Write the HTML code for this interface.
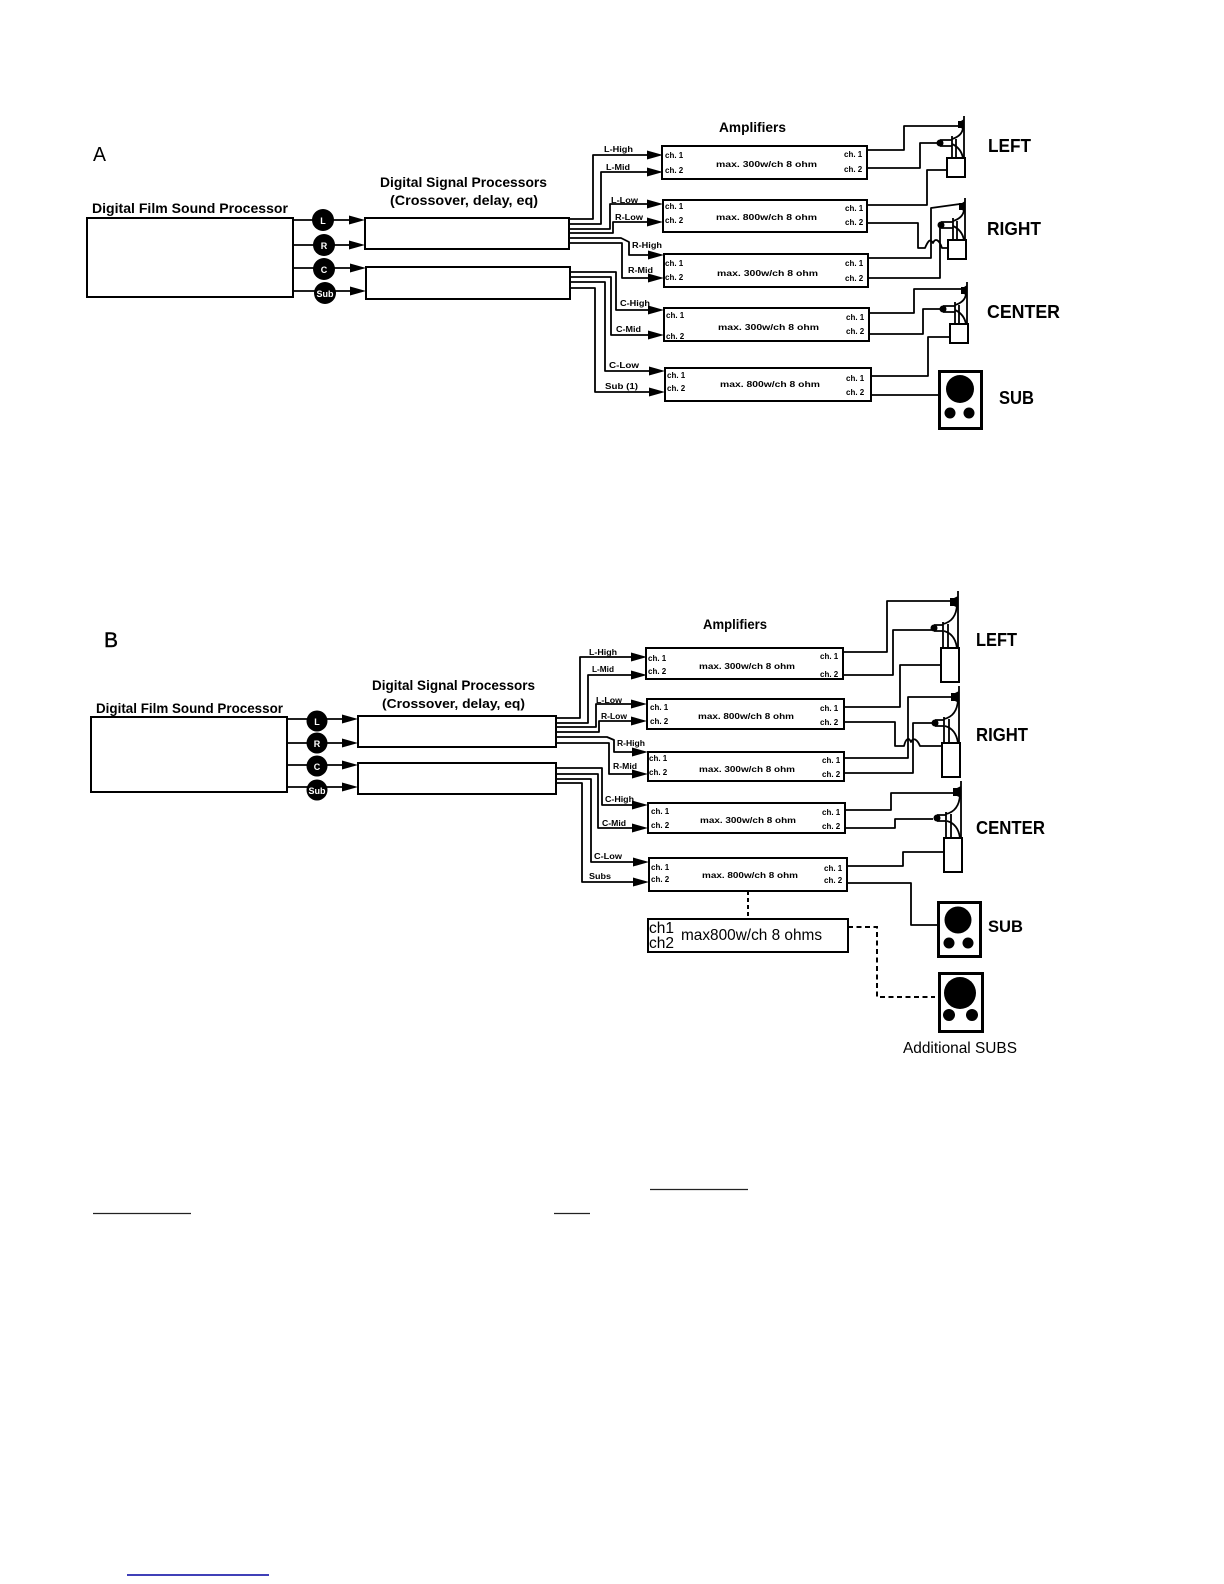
<!DOCTYPE html>
<html><head><meta charset="utf-8">
<style>
html,body{margin:0;padding:0;background:#fff}
svg{display:block}
text{font-family:"Liberation Sans",sans-serif;fill:#000}
.b{font-weight:bold}
.s{font-weight:bold;font-size:8px}
.w{fill:#fff;font-weight:bold;font-size:9px;text-anchor:middle}
.l{fill:none;stroke:#000;stroke-width:1.8;stroke-linejoin:round}
.r{fill:#fff;stroke:#000;stroke-width:2}
</style></head><body>
<svg width="1224" height="1584" viewBox="0 0 1224 1584" xmlns="http://www.w3.org/2000/svg">
<defs>
<g id="spA">
<path class="l" d="M0 0V42"/><path d="M-6 5h3l3 -2v11l-3 -2h-3z" fill="#000"/>
<path class="l" d="M-1 12Q-2 20 -12 23"/><path class="l" d="M-12 20V42M-8 23V42"/>
<circle cx="-24" cy="27" r="3.5" fill="#000"/><path class="l" d="M-24 24H-12M-24 30H-12"/>
<path class="l" d="M-12 28Q-3 32 -1 42"/>
<rect class="r" x="-17" y="42" width="18" height="19"/>
</g>
<g id="spB">
<path class="l" d="M0 0V57"/><path d="M-8 7h4l4 -2v12l-4 -2h-4z" fill="#000"/>
<path class="l" d="M-1 14Q-2 30 -15 33"/><path class="l" d="M-15 31V57M-10 33V57"/>
<circle cx="-24" cy="37" r="3.5" fill="#000"/><path class="l" d="M-24 34H-15M-24 40H-15"/>
<path class="l" d="M-14 40Q-3 43 -1 57"/>
<rect class="r" x="-17" y="57" width="18" height="34"/>
</g>
<path id="ar" d="M0 -4.5L16 0L0 4.5z" fill="#000"/>
</defs>

<!-- ===== A ===== -->
<text x="93" y="161" font-size="20" textLength="13" lengthAdjust="spacingAndGlyphs">A</text>
<text class="b" x="92" y="213" font-size="14" textLength="196" lengthAdjust="spacingAndGlyphs">Digital Film Sound Processor</text>
<text class="b" x="380" y="187" font-size="14" textLength="167" lengthAdjust="spacingAndGlyphs">Digital Signal Processors</text>
<text class="b" x="390" y="205" font-size="14" textLength="148" lengthAdjust="spacingAndGlyphs">(Crossover, delay, eq)</text>
<rect class="r" x="87" y="218" width="206" height="79"/>
<rect class="r" x="365" y="218" width="204" height="31"/>
<rect class="r" x="366" y="267" width="204" height="32"/>
<path class="l" d="M293 220H350M293 245H350M293 268H350M293 291H350"/>
<use href="#ar" x="349" y="220"/><use href="#ar" x="349" y="245"/><use href="#ar" x="350" y="268"/><use href="#ar" x="350" y="291"/>
<circle cx="323" cy="220" r="11"/><circle cx="324" cy="245" r="11"/><circle cx="324" cy="269" r="11"/><circle cx="325" cy="293" r="11"/>
<text class="w" x="323" y="224">L</text><text class="w" x="324" y="249">R</text><text class="w" x="324" y="273">C</text><text class="w" x="325" y="297">Sub</text>

<path class="l" d="M569 219H593V155H650M569 224H601V172H650M569 229H610V204H650M569 233H613V222H650"/>
<path class="l" d="M569 238H621L629 242V255H650M569 243H622V278H650"/>
<path class="l" d="M570 272H616V310H650M570 277H611V335H650M570 282H605V371H650M570 288H595V392H650"/>
<use href="#ar" x="647" y="155"/><use href="#ar" x="647" y="172"/><use href="#ar" x="647" y="204"/><use href="#ar" x="647" y="222"/>
<use href="#ar" x="648" y="255"/><use href="#ar" x="648" y="278"/><use href="#ar" x="648" y="310"/><use href="#ar" x="648" y="335"/><use href="#ar" x="649" y="371"/><use href="#ar" x="649" y="392"/>

<text class="s" x="604" y="152" textLength="29" lengthAdjust="spacingAndGlyphs">L-High</text>
<text class="s" x="606" y="170" textLength="24" lengthAdjust="spacingAndGlyphs">L-Mid</text>
<text class="s" x="611" y="203" textLength="27" lengthAdjust="spacingAndGlyphs">L-Low</text>
<text class="s" x="615" y="220" textLength="28" lengthAdjust="spacingAndGlyphs">R-Low</text>
<text class="s" x="632" y="248" textLength="30" lengthAdjust="spacingAndGlyphs">R-High</text>
<text class="s" x="628" y="273" textLength="25" lengthAdjust="spacingAndGlyphs">R-Mid</text>
<text class="s" x="620" y="306" textLength="30" lengthAdjust="spacingAndGlyphs">C-High</text>
<text class="s" x="616" y="332" textLength="25" lengthAdjust="spacingAndGlyphs">C-Mid</text>
<text class="s" x="609" y="368" textLength="30" lengthAdjust="spacingAndGlyphs">C-Low</text>
<text class="s" x="605" y="389" textLength="33" lengthAdjust="spacingAndGlyphs">Sub (1)</text>

<text class="b" x="719" y="132" font-size="14" textLength="67" lengthAdjust="spacingAndGlyphs">Amplifiers</text>
<rect class="r" x="662" y="146" width="205" height="33"/>
<rect class="r" x="663" y="200" width="204" height="32"/>
<rect class="r" x="664" y="254" width="204" height="33"/>
<rect class="r" x="664" y="308" width="205" height="33"/>
<rect class="r" x="665" y="368" width="206" height="33"/>

<text class="s" x="665" y="158">ch. 1</text><text class="s" x="665" y="173">ch. 2</text><text class="s" x="716" y="167" textLength="101" lengthAdjust="spacingAndGlyphs">max. 300w/ch 8 ohm</text><text class="s" x="844" y="157">ch. 1</text><text class="s" x="844" y="172">ch. 2</text>
<text class="s" x="665" y="209">ch. 1</text><text class="s" x="665" y="223">ch. 2</text><text class="s" x="716" y="220" textLength="101" lengthAdjust="spacingAndGlyphs">max. 800w/ch 8 ohm</text><text class="s" x="845" y="211">ch. 1</text><text class="s" x="845" y="225">ch. 2</text>
<text class="s" x="665" y="266">ch. 1</text><text class="s" x="665" y="280">ch. 2</text><text class="s" x="717" y="276" textLength="101" lengthAdjust="spacingAndGlyphs">max. 300w/ch 8 ohm</text><text class="s" x="845" y="266">ch. 1</text><text class="s" x="845" y="281">ch. 2</text>
<text class="s" x="666" y="318">ch. 1</text><text class="s" x="666" y="339">ch. 2</text><text class="s" x="718" y="330" textLength="101" lengthAdjust="spacingAndGlyphs">max. 300w/ch 8 ohm</text><text class="s" x="846" y="320">ch. 1</text><text class="s" x="846" y="334">ch. 2</text>
<text class="s" x="667" y="378">ch. 1</text><text class="s" x="667" y="391">ch. 2</text><text class="s" x="720" y="387" textLength="100" lengthAdjust="spacingAndGlyphs">max. 800w/ch 8 ohm</text><text class="s" x="846" y="381">ch. 1</text><text class="s" x="846" y="395">ch. 2</text>

<path class="l" d="M867 150H904V126H960M867 168H920V143H938M867 205H927V170H948"/>
<path class="l" d="M867 223H918V248H925C928 241 930 238 933 243C935 238 939 239 942 248H951"/>
<path class="l" d="M868 258H931V208L960 204M868 278H940V224"/>
<path class="l" d="M869 313H914V289H961M869 334H923V309H940M871 376H928V337H951M871 395H938"/>
<use href="#spA" x="964" y="116"/><use href="#spA" x="965" y="198"/><use href="#spA" x="967" y="282"/>
<rect x="939.5" y="371.5" width="42" height="57" fill="#fff" stroke="#000" stroke-width="3"/>
<circle cx="960" cy="389" r="14"/><circle cx="950" cy="413" r="5.5"/><circle cx="969" cy="413" r="5.5"/>
<text class="b" x="988" y="152" font-size="18" textLength="43" lengthAdjust="spacingAndGlyphs">LEFT</text>
<text class="b" x="987" y="235" font-size="18" textLength="54" lengthAdjust="spacingAndGlyphs">RIGHT</text>
<text class="b" x="987" y="318" font-size="18" textLength="73" lengthAdjust="spacingAndGlyphs">CENTER</text>
<text class="b" x="999" y="404" font-size="18" textLength="35" lengthAdjust="spacingAndGlyphs">SUB</text>

<!-- ===== B ===== -->
<text x="104" y="647" font-size="21" textLength="14" lengthAdjust="spacingAndGlyphs" stroke="#000" stroke-width=".4">B</text>
<text class="b" x="96" y="713" font-size="14" textLength="187" lengthAdjust="spacingAndGlyphs">Digital Film Sound Processor</text>
<text class="b" x="372" y="690" font-size="14" textLength="163" lengthAdjust="spacingAndGlyphs">Digital Signal Processors</text>
<text class="b" x="382" y="708" font-size="13" textLength="143" lengthAdjust="spacingAndGlyphs">(Crossover, delay, eq)</text>
<rect class="r" x="91" y="717" width="196" height="75"/>
<rect class="r" x="358" y="716" width="198" height="31"/>
<rect class="r" x="358" y="763" width="198" height="31"/>
<path class="l" d="M287 719H345M287 743H345M287 765H345M287 787H345"/>
<use href="#ar" x="342" y="719"/><use href="#ar" x="342" y="743"/><use href="#ar" x="342" y="765"/><use href="#ar" x="342" y="787"/>
<circle cx="317" cy="721" r="10.5"/><circle cx="317" cy="743" r="10.5"/><circle cx="317" cy="766" r="10.5"/><circle cx="317" cy="790" r="10.5"/>
<text class="w" x="317" y="725">L</text><text class="w" x="317" y="747">R</text><text class="w" x="317" y="770">C</text><text class="w" x="317" y="794">Sub</text>

<path class="l" d="M556 718H580V657H635M556 723H588V675H635M556 727H596V704H635M556 732H599V721H635"/>
<path class="l" d="M556 737H607L614 740V752H635M556 743H609V774H635"/>
<path class="l" d="M556 768H602V805H635M556 774H598V828H635M556 779H591V862H635M556 783H582V882H636"/>
<use href="#ar" x="631" y="657"/><use href="#ar" x="631" y="675"/><use href="#ar" x="631" y="704"/><use href="#ar" x="631" y="721"/>
<use href="#ar" x="632" y="752"/><use href="#ar" x="632" y="774"/><use href="#ar" x="632" y="805"/><use href="#ar" x="632" y="828"/><use href="#ar" x="633" y="862"/><use href="#ar" x="633" y="882"/>

<text class="s" x="589" y="655" textLength="28" lengthAdjust="spacingAndGlyphs">L-High</text>
<text class="s" x="592" y="672" textLength="22" lengthAdjust="spacingAndGlyphs">L-Mid</text>
<text class="s" x="596" y="703" textLength="26" lengthAdjust="spacingAndGlyphs">L-Low</text>
<text class="s" x="601" y="719" textLength="26" lengthAdjust="spacingAndGlyphs">R-Low</text>
<text class="s" x="617" y="746" textLength="28" lengthAdjust="spacingAndGlyphs">R-High</text>
<text class="s" x="613" y="769" textLength="24" lengthAdjust="spacingAndGlyphs">R-Mid</text>
<text class="s" x="605" y="802" textLength="29" lengthAdjust="spacingAndGlyphs">C-High</text>
<text class="s" x="602" y="826" textLength="24" lengthAdjust="spacingAndGlyphs">C-Mid</text>
<text class="s" x="594" y="859" textLength="28" lengthAdjust="spacingAndGlyphs">C-Low</text>
<text class="s" x="589" y="879" textLength="22" lengthAdjust="spacingAndGlyphs">Subs</text>

<text class="b" x="703" y="629" font-size="14" textLength="64" lengthAdjust="spacingAndGlyphs">Amplifiers</text>
<rect class="r" x="646" y="648" width="197" height="31"/>
<rect class="r" x="647" y="699" width="197" height="30"/>
<rect class="r" x="648" y="752" width="196" height="29"/>
<rect class="r" x="648" y="803" width="197" height="30"/>
<rect class="r" x="649" y="858" width="198" height="33"/>
<rect class="r" x="648" y="919" width="200" height="33"/>

<text class="s" x="648" y="661">ch. 1</text><text class="s" x="648" y="674">ch. 2</text><text class="s" x="699" y="669" textLength="96" lengthAdjust="spacingAndGlyphs">max. 300w/ch 8 ohm</text><text class="s" x="820" y="659">ch. 1</text><text class="s" x="820" y="677">ch. 2</text>
<text class="s" x="650" y="710">ch. 1</text><text class="s" x="650" y="724">ch. 2</text><text class="s" x="698" y="719" textLength="96" lengthAdjust="spacingAndGlyphs">max. 800w/ch 8 ohm</text><text class="s" x="820" y="711">ch. 1</text><text class="s" x="820" y="725">ch. 2</text>
<text class="s" x="649" y="761">ch. 1</text><text class="s" x="649" y="775">ch. 2</text><text class="s" x="699" y="772" textLength="96" lengthAdjust="spacingAndGlyphs">max. 300w/ch 8 ohm</text><text class="s" x="822" y="763">ch. 1</text><text class="s" x="822" y="777">ch. 2</text>
<text class="s" x="651" y="814">ch. 1</text><text class="s" x="651" y="828">ch. 2</text><text class="s" x="700" y="823" textLength="96" lengthAdjust="spacingAndGlyphs">max. 300w/ch 8 ohm</text><text class="s" x="822" y="815">ch. 1</text><text class="s" x="822" y="829">ch. 2</text>
<text class="s" x="651" y="870">ch. 1</text><text class="s" x="651" y="882">ch. 2</text><text class="s" x="702" y="878" textLength="96" lengthAdjust="spacingAndGlyphs">max. 800w/ch 8 ohm</text><text class="s" x="824" y="871">ch. 1</text><text class="s" x="824" y="883">ch. 2</text>

<text x="649" y="933" font-size="15.5">ch1</text><text x="649" y="948" font-size="15.5">ch2</text>
<text x="681" y="940" font-size="16" textLength="141" lengthAdjust="spacingAndGlyphs">max800w/ch 8 ohms</text>

<path class="l" d="M843 652H887V601H951M843 675H893V630H932M844 707H900V665H941"/>
<path class="l" d="M844 722H895V746H904C906 738 909 737 911 742C913 737 917 739 920 746H943"/>
<path class="l" d="M844 758H908V697H952M844 773H913V723H933"/>
<path class="l" d="M845 810H891V793H953M845 828H895V819H933M847 866H903V852H945M847 883H911V925H937"/>
<use href="#spB" x="958" y="591"/><use href="#spB" x="959" y="686"/><use href="#spB" x="961" y="781"/>
<path d="M748 891V919" fill="none" stroke="#000" stroke-width="2" stroke-dasharray="4 3"/>
<path d="M848 927H877V997H935" fill="none" stroke="#000" stroke-width="2" stroke-dasharray="5 3.5"/>
<rect x="938.5" y="902.5" width="42" height="54" fill="#fff" stroke="#000" stroke-width="3"/>
<circle cx="958" cy="920" r="13.5"/><circle cx="949" cy="943" r="5.5"/><circle cx="968" cy="943" r="5.5"/>
<rect x="939.5" y="973.5" width="43" height="58" fill="#fff" stroke="#000" stroke-width="3"/>
<circle cx="960" cy="993" r="16"/><circle cx="949" cy="1015" r="6"/><circle cx="972" cy="1015" r="6"/>

<text class="b" x="976" y="646" font-size="18" textLength="41" lengthAdjust="spacingAndGlyphs">LEFT</text>
<text class="b" x="976" y="741" font-size="18" textLength="52" lengthAdjust="spacingAndGlyphs">RIGHT</text>
<text class="b" x="976" y="834" font-size="18" textLength="69" lengthAdjust="spacingAndGlyphs">CENTER</text>
<text class="b" x="988" y="932" font-size="17" textLength="35" lengthAdjust="spacingAndGlyphs">SUB</text>
<text x="903" y="1053" font-size="16" textLength="114" lengthAdjust="spacingAndGlyphs">Additional SUBS</text>

<!-- footer rules -->
<path d="M650 1189.5H748M93 1213.5H191M554 1213.5H590" stroke="#222" stroke-width="1.2"/>
<path d="M127 1575H269" stroke="#0000a0" stroke-width="1.5"/>
</svg>
</body></html>
